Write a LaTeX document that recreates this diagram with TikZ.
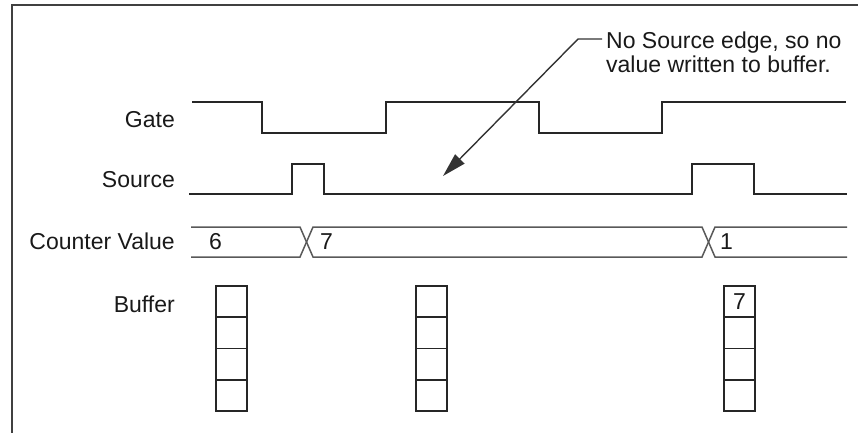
\documentclass[tikz,border=0pt]{standalone}
\usepackage{fontspec}
\setmainfont{Liberation Sans}
\usetikzlibrary{arrows.meta}
\begin{document}
\begin{tikzpicture}[x=1pt,y=-1pt,
  frame/.style={line width=2pt, draw=black!75},
  wave/.style={line width=1.6pt, draw=black!85, line join=miter},
  bus/.style={line width=1.5pt, draw=black!65},
  txt/.style={inner sep=0pt, font=\fontsize{23}{24}\selectfont, text=black!90},
  lbl/.style={txt, anchor=base east},
  val/.style={txt, anchor=base west},
  cell/.style={draw=black!85, line width=1.6pt, minimum width=31pt, minimum height=31.25pt, inner sep=0pt, txt},
  pointer/.style={line width=1.4pt, draw=black!80, -{Triangle[length=24pt,width=13pt]}}
]
\useasboundingbox (0,0) rectangle (858,432);
% frame
\draw[frame] (12,440) -- (12,5) -- (866,5);

% labels
\node[lbl] (lgate) at (175,127) {Gate};
\node[lbl] (lsource) at (175,187) {Source};
\node[lbl] (lcounter) at (175,249) {Counter Value};
\node[lbl] (lbuffer) at (175,312) {Buffer};

% Gate waveform
\draw[wave] (192,102) -- (262,102) -- (262,133) -- (386,133) -- (386,102)
  -- (539,102) -- (539,133) -- (662,133) -- (662,102) -- (846,102);

% Source waveform
\draw[wave] (189,194) -- (292,194) -- (292,164) -- (324,164) -- (324,194)
  -- (692,194) -- (692,164) -- (754,164) -- (754,194) -- (847,194);

% Counter value bus
\draw[bus] (191,227) -- (300,227) -- (313,257) -- (702,257) -- (715,227) -- (847,227);
\draw[bus] (191,257) -- (300,257) -- (313,227) -- (702,227) -- (715,257) -- (847,257);
\node[val] (v6) at (209,249) {6};
\node[val] (v7) at (320,249) {7};
\node[val] (v1) at (720,249) {1};

% Buffers
\foreach \bx/\nm in {231.5/a, 431.5/b, 739.5/c}{
  \foreach \r in {0,1,2,3}{
    \node[cell] (buf\nm\r) at (\bx, 301.6+31.25*\r) {};
  }
}
\node[txt] (bufval) at (bufc0) {7};

% annotation
\node[txt, anchor=north west, align=left] (note) at (606,32)
  {No Source edge, so no\\value written to buffer.};
\coordinate (tip) at (443,176);
\draw[pointer] ([xshift=-4pt,yshift=-7pt]note.north west) -- ++(-24,0) -- (tip);
\end{tikzpicture}
\end{document}
